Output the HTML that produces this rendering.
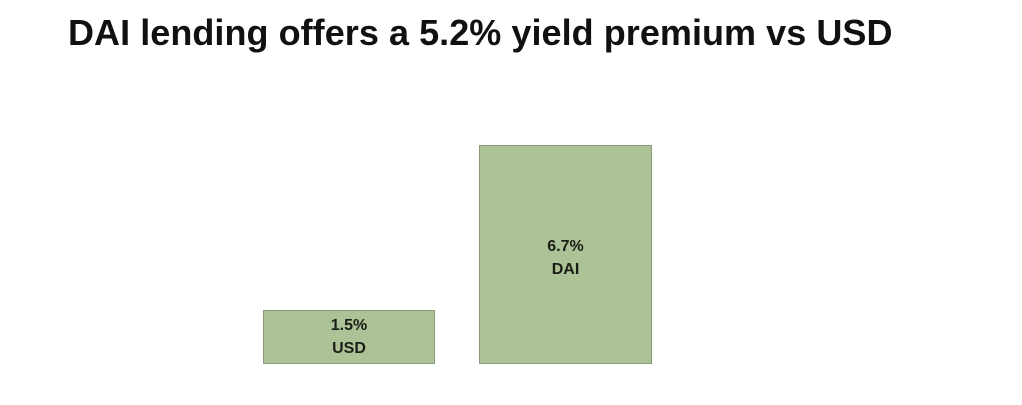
<!DOCTYPE html>
<html><head><meta charset="utf-8"><style>
body{margin:0;width:1022px;height:405px;background:#fff;position:relative;overflow:hidden;font-family:"Liberation Sans",Arial,sans-serif}
.t{position:absolute;left:68px;top:12px;font-size:36px;font-weight:bold;color:#111;letter-spacing:0.05px;white-space:nowrap}
.b{position:absolute;background:#adc297;border:1px solid #8a9a7c;box-sizing:border-box;display:flex;flex-direction:column;align-items:center;justify-content:center;font-weight:bold;font-size:16px;color:#1a1f16;line-height:23px;text-align:center}
</style></head><body>
<div class="t">DAI lending offers a 5.2% yield premium vs USD</div>
<div class="b" style="left:263px;top:310px;width:172px;height:54px">1.5%<br>USD</div>
<div class="b" style="left:479px;top:145px;width:173px;height:219px;padding-top:6px">6.7%<br>DAI</div>
</body></html>
